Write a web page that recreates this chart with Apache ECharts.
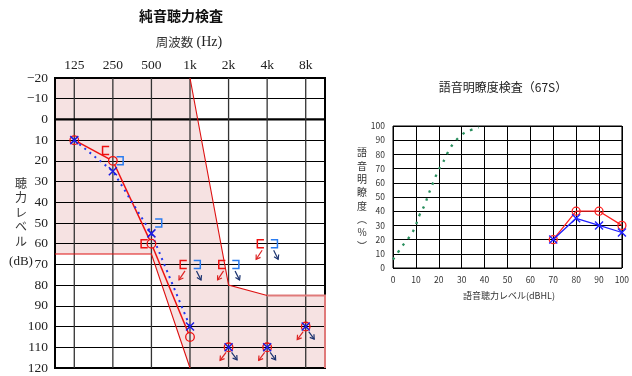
<!DOCTYPE html>
<html><head><meta charset="utf-8">
<script src="https://cdn.jsdelivr.net/npm/echarts@6/dist/echarts.min.js"></script>
<style>html,body{margin:0;padding:0;background:#fff}#c{width:632px;height:376px}</style>
</head><body><div id="c"></div>
<script>
// ---- pure-tone audiogram data ----
const freqLabels = ['125','250','500','1k','2k','4k','8k'];
const rightAir = [[0,10],[1,20],[2,60],[3,105]];
const leftAir = [[0,10],[1,25],[2,55],[3,100]];
const rightAirOut = [[4,110],[5,110],[6,100]];
const leftAirOut = [[4,110],[5,110],[6,100]];
const rightBone = [[1,15],[2,60]];
const leftBone = [[1,20],[2,50]];
const rightBoneOut = [[3,70],[4,70],[5,60]];
const leftBoneOut = [[3,70],[4,70],[5,60]];
const shadeArea = [[-0.5,-20],[3,-20],[4,80],[5,85],[6.5,85],[6.5,120],[3,120],[2,65],[-0.5,65]];
const shadeEdgeUpper = [[3,-20],[4,80],[5,85]];
const shadeEdgeThick = [[5,85],[6.5,85],[6.5,120]];
const shadeEdgeLower = [[-0.5,65],[2,65],[3,120]];
// ---- speech audiometry data ----
const speechLevels = [70,80,90,100];
const speechRight = [20,40,40,30];
const speechLeft = [20,35,30,25];
const refCurve = [[0,6],[2.6,12],[5,17.5],[7.2,22],[9.4,28],[11.5,37],[13.7,44],[15.1,50],[16.5,56],[18,62],[19.9,69],[21.3,73],[22.7,77],[24.5,83],[26.6,88],[30.2,94],[33.8,97],[37.4,99]];

const SERIF = '"Liberation Serif","Times New Roman",serif';
const SANS = '"Noto Sans CJK JP","Noto Sans",sans-serif';
const RED = '#ee1111', BLUE = '#1a1ae0', LBLUE = '#2a7cf0', NAVY = '#1c3470', RARROW = '#dd2222';

const chart = echarts.init(document.getElementById('c'));

function arrow(x0,y0,x1,y1,color){
  const dx=x1-x0, dy=y1-y0, L=Math.hypot(dx,dy), ux=dx/L, uy=dy/L, px=-uy, py=ux, h=4, w=2.6;
  return {type:'group', children:[
    {type:'line', shape:{x1:x0,y1:y0,x2:x1,y2:y1}, style:{stroke:color,lineWidth:1.2}},
    {type:'polyline', shape:{points:[[x1-h*ux+w*px,y1-h*uy+w*py],[x1,y1],[x1-h*ux-w*px,y1-h*uy-w*py]]}, style:{stroke:color,lineWidth:1.2,fill:null}}
  ]};
}
function circleEl(p,color){ return {type:'circle', shape:{cx:p[0],cy:p[1],r:4.3}, style:{fill:null,stroke:color,lineWidth:1.3}}; }
function crossEl(p,color){ const s=4; return {type:'group',children:[
  {type:'line',shape:{x1:p[0]-s,y1:p[1]-s,x2:p[0]+s,y2:p[1]+s},style:{stroke:color,lineWidth:1.5}},
  {type:'line',shape:{x1:p[0]+s,y1:p[1]-s,x2:p[0]-s,y2:p[1]+s},style:{stroke:color,lineWidth:1.5}}]}; }
function bracketEl(cx,cy,openRight,color){
  const a=3.3,b=4;
  const pts = openRight ? [[cx+a,cy-b],[cx-a,cy-b],[cx-a,cy+b],[cx+a,cy+b]] : [[cx-a,cy-b],[cx+a,cy-b],[cx+a,cy+b],[cx-a,cy+b]];
  return {type:'polyline', shape:{points:pts}, style:{stroke:color,lineWidth:1.5,fill:null}};
}
function custom(data, z, fn){
  return {type:'custom', xAxisIndex:1, yAxisIndex:0, z:z, silent:true, data:data,
    renderItem:(params, api)=>fn(params.dataIndex, api)};
}

const series = [
  custom([[0,0]], -1, (i,api)=>({type:'polygon', shape:{points:shadeArea.map(d=>api.coord(d))}, style:{fill:'#f6e2e2'}})),
  custom(freqLabels.map((l,i)=>[i,0]), 1, (i,api)=>{
    const a=api.coord([i,-20]), b=api.coord([i,120]);
    const ch=[{type:'line',shape:{x1:a[0],y1:a[1],x2:b[0],y2:b[1]},style:{stroke:'#333',lineWidth:1.3}}];
    if(i===0){const c=api.coord([-0.5,0]), d=api.coord([6.5,0]); ch.push({type:'line',shape:{x1:c[0],y1:c[1],x2:d[0],y2:d[1]},style:{stroke:'#000',lineWidth:2.2}});}
    return {type:'group',children:ch};
  }),
  custom([[0,0]], 2, (i,api)=>({type:'group',children:[
    {type:'polyline',shape:{points:shadeEdgeUpper.map(d=>api.coord(d))},style:{stroke:'#dd1111',lineWidth:1.1,fill:null}},
    {type:'polyline',shape:{points:shadeEdgeLower.map(d=>api.coord(d))},style:{stroke:'#dd1111',lineWidth:1.1,fill:null}},
    {type:'polyline',shape:{points:shadeEdgeThick.map(d=>api.coord(d))},style:{stroke:'#e07a7a',lineWidth:2,fill:null}}
  ]})),
  custom(rightAir, 3, (i,api)=>{
    if(i>=rightAir.length-1) return null;
    const a=api.coord(rightAir[i]), b=api.coord(rightAir[i+1]);
    const dx=b[0]-a[0], dy=b[1]-a[1], L=Math.hypot(dx,dy), r=4.3;
    return {type:'line',shape:{x1:a[0]+dx/L*r,y1:a[1]+dy/L*r,x2:b[0]-dx/L*r,y2:b[1]-dy/L*r},style:{stroke:RED,lineWidth:1.5}};
  }),
  {type:'line', xAxisIndex:1, yAxisIndex:0, z:3, silent:true, data:leftAir, symbol:'none',
   lineStyle:{color:'#2238ee', width:2, type:[2,4.5]}},
  custom(rightAir, 4, (i,api)=>circleEl(api.coord(rightAir[i]),RED)),
  custom(leftAir, 5, (i,api)=>crossEl(api.coord(leftAir[i]),BLUE)),
  custom(rightAirOut, 4, (i,api)=>{const p=api.coord(rightAirOut[i]); return {type:'group',children:[circleEl(p,RED), arrow(p[0]-2.5,p[1]+5,p[0]-8.5,p[1]+13,RARROW)]};}),
  custom(leftAirOut, 5, (i,api)=>{const p=api.coord(leftAirOut[i]); return {type:'group',children:[crossEl(p,BLUE), arrow(p[0]+3,p[1]+5,p[0]+8.5,p[1]+12.5,NAVY)]};}),
  custom(rightBone, 4, (i,api)=>{const p=api.coord(rightBone[i]); return bracketEl(p[0]-7,p[1],true,RED);}),
  custom(leftBone, 4, (i,api)=>{const p=api.coord(leftBone[i]); return bracketEl(p[0]+7,p[1],false,LBLUE);}),
  custom(rightBoneOut, 4, (i,api)=>{const p=api.coord(rightBoneOut[i]); return {type:'group',children:[bracketEl(p[0]-6.5,p[1],true,RED), arrow(p[0]-5,p[1]+6.5,p[0]-11,p[1]+15.5,RARROW)]};}),
  custom(leftBoneOut, 4, (i,api)=>{const p=api.coord(leftBoneOut[i]); return {type:'group',children:[bracketEl(p[0]+7,p[1],false,LBLUE), arrow(p[0]+6.5,p[1]+6.5,p[0]+11,p[1]+15.5,NAVY)]};}),
  {type:'line', xAxisIndex:2, yAxisIndex:1, silent:true, data:refCurve, symbol:'none', smooth:true,
   lineStyle:{color:'#2a8f5e', width:2.3, type:[2.5,6]}},
  {type:'line', xAxisIndex:2, yAxisIndex:1, silent:true, data:speechLevels.map((x,i)=>[x,speechRight[i]]),
   symbol:'circle', symbolSize:8, itemStyle:{color:'rgba(0,0,0,0)', borderColor:'#ff2020', borderWidth:1.3},
   lineStyle:{color:'#ff2020', width:1.3}},
  {type:'line', xAxisIndex:2, yAxisIndex:1, silent:true, data:speechLevels.map((x,i)=>[x,speechLeft[i]]),
   symbol:'path://M0,0L10,10M10,0L0,10', symbolSize:8, itemStyle:{color:'rgba(0,0,0,0)', borderColor:'#2020ff', borderWidth:1.4},
   lineStyle:{color:'#2020ff', width:1.3}}
];

chart.setOption({
  animation:false,
  backgroundColor:'#fff',
  grid:[
    {left:55, top:78, width:270, height:290, show:true, borderColor:'#000', borderWidth:2, backgroundColor:'rgba(0,0,0,0)'},
    {left:393, top:126, width:232, height:142, show:true, borderColor:'#000', borderWidth:1, backgroundColor:'rgba(0,0,0,0)'}
  ],
  xAxis:[
    {type:'category', gridIndex:0, data:freqLabels, position:'top', boundaryGap:true,
     axisLine:{show:false}, axisTick:{show:false}, splitLine:{show:false},
     axisLabel:{fontFamily:SERIF, fontSize:13.5, color:'#222', margin:6}},
    {type:'value', gridIndex:0, min:-0.5, max:6.5, show:false},
    {type:'value', gridIndex:1, min:0, max:100, interval:10,
     axisLine:{show:false}, axisTick:{show:false},
     splitLine:{show:true, lineStyle:{color:'#000', width:1}},
     axisLabel:{fontFamily:SANS, fontSize:8.5, color:'#333', margin:8}}
  ],
  yAxis:[
    {type:'value', gridIndex:0, inverse:true, min:-20, max:120, interval:10,
     axisLine:{show:false}, axisTick:{show:false},
     splitLine:{show:true, lineStyle:{color:'#000', width:1}},
     axisLabel:{fontFamily:SERIF, fontSize:13.5, color:'#222', margin:7,
       formatter:v=> v<0 ? '\u2212'+(-v) : String(v)}},
    {type:'value', gridIndex:1, min:0, max:100, interval:10,
     axisLine:{show:false}, axisTick:{show:false},
     splitLine:{show:true, lineStyle:{color:'#000', width:1}},
     axisLabel:{fontFamily:SANS, fontSize:8.5, color:'#333', margin:8}}
  ],
  graphic:[
    {type:'text', x:181, y:16, style:{text:'純音聴力検査', font:'bold 14px '+SANS, fill:'#111', align:'center', verticalAlign:'middle'}},
    {type:'text', x:189, y:42, style:{text:'{a|周波数} {b|(Hz)}', align:'center', verticalAlign:'middle',
      rich:{a:{fontFamily:SANS, fontSize:12.5, fill:'#333'}, b:{fontFamily:SERIF, fontSize:14, fill:'#222'}}}},
    {type:'text', x:21, y:176, style:{text:'聴\n力\nレ\nベ\nル', fontFamily:SANS, fontSize:12, lineHeight:14.5, fill:'#333', align:'center', verticalAlign:'top'}},
    {type:'text', x:21, y:262, style:{text:'(dB)', fontFamily:SERIF, fontSize:13, fill:'#222', align:'center', verticalAlign:'middle'}},
    {type:'text', x:503, y:87, style:{text:'語音明瞭度検査（67S）', fontFamily:SANS, fontSize:12, fill:'#222', align:'center', verticalAlign:'middle'}},
    {type:'text', x:362, y:146, style:{text:'語\n音\n明\n瞭\n度\n︵\n%\n︶', fontFamily:SANS, fontSize:10, lineHeight:13.3, fill:'#333', align:'center', verticalAlign:'top'}},
    {type:'text', x:509, y:296, style:{text:'語音聴力レベル(dBHL)', fontFamily:SANS, fontSize:9, fill:'#333', align:'center', verticalAlign:'middle'}}
  ],
  series:series
});
</script></body></html>
